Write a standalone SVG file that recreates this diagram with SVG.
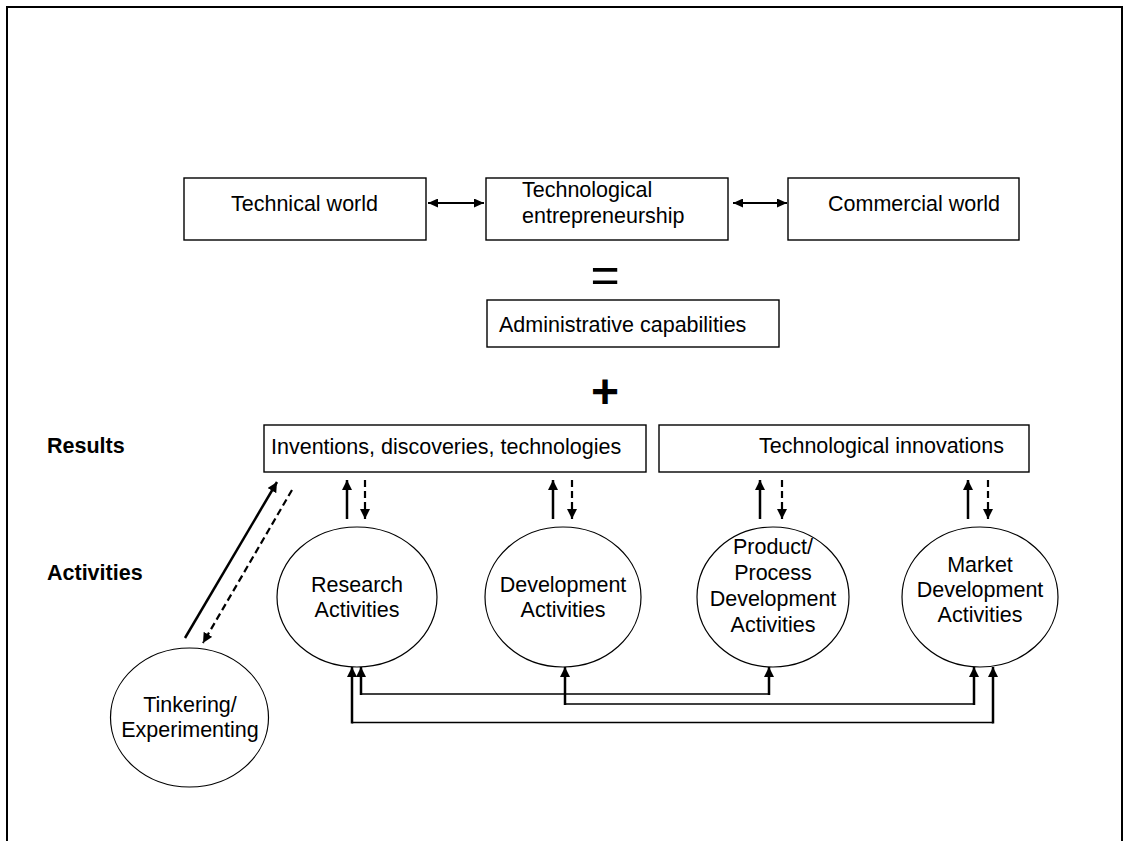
<svg xmlns="http://www.w3.org/2000/svg" width="1126" height="841" viewBox="0 0 1126 841">
  <style>
    .box { fill: #fff; stroke: #000; stroke-width: 1.4; }
    .oval { fill: #fff; stroke: #000; stroke-width: 1.2; }
    .t { font-family: "Liberation Sans", Arial, sans-serif; font-size: 21.5px; fill: #000; }
    .c { text-anchor: middle; }
    .lbl { font-weight: bold; }
    .sym { font-family: "Liberation Sans", Arial, sans-serif; fill: #000; text-anchor: middle; }
    .link { fill: none; stroke: #000; }
    .solid { stroke-width: 2.5; }
    .dash { stroke-width: 2.2; stroke-dasharray: 7 4; }
    .thin { stroke-width: 1.5; }
    .pair { stroke-width: 2; }
  </style>
  <defs>
    <marker id="head" markerUnits="userSpaceOnUse" markerWidth="11" markerHeight="10" refX="10" refY="5" orient="auto-start-reverse">
      <path d="M0,0 L10,5 L0,10 z" fill="#000"/>
    </marker>
    <marker id="headSmall" markerUnits="userSpaceOnUse" markerWidth="10" markerHeight="9" refX="10" refY="4.5" orient="auto-start-reverse">
      <path d="M0,0 L10,4.5 L0,9 z" fill="#000"/>
    </marker>
  </defs>

  <rect width="1126" height="841" fill="#fff"/>
  <!-- page frame, open at the bottom -->
  <path d="M7,841 V7 H1122 V841" fill="none" stroke="#000" stroke-width="2"/>

  <!-- top row -->
  <g id="technical-world">
    <rect class="box" x="184" y="178" width="242" height="62"/>
    <text class="t" x="231" y="211">Technical world</text>
  </g>
  <g id="tech-entrepreneurship">
    <rect class="box" x="486" y="178" width="242" height="62"/>
    <text class="t" x="522" y="197">Technological</text>
    <text class="t" x="522" y="223">entrepreneurship</text>
  </g>
  <g id="commercial-world">
    <rect class="box" x="788" y="178" width="231" height="62"/>
    <text class="t" x="828" y="211">Commercial world</text>
  </g>

  <g id="equals">
    <text class="sym" x="605" y="292" font-size="50">=</text>
  </g>

  <g id="admin-capabilities">
    <rect class="box" x="487" y="300" width="292" height="47"/>
    <text class="t" x="499" y="332">Administrative capabilities</text>
  </g>

  <g id="plus">
    <text class="sym" x="605" y="408" font-size="48" font-weight="bold">+</text>
  </g>

  <!-- row labels -->
  <g id="row-labels">
    <text class="t lbl" x="47" y="453">Results</text>
    <text class="t lbl" x="47" y="580">Activities</text>
  </g>

  <!-- results -->
  <g id="inventions">
    <rect class="box" x="264" y="425" width="382" height="47"/>
    <text class="t" x="271" y="454">Inventions, discoveries, technologies</text>
  </g>
  <g id="innovations">
    <rect class="box" x="659" y="425" width="370" height="47"/>
    <text class="t" x="759" y="453">Technological innovations</text>
  </g>

  <!-- activities -->
  <g id="research">
    <ellipse class="oval" cx="357" cy="597" rx="80" ry="70"/>
    <text class="t c" x="357" y="592">Research</text>
    <text class="t c" x="357" y="617">Activities</text>
  </g>
  <g id="development">
    <ellipse class="oval" cx="563" cy="597" rx="78" ry="70"/>
    <text class="t c" x="563" y="592">Development</text>
    <text class="t c" x="563" y="617">Activities</text>
  </g>
  <g id="product-process">
    <ellipse class="oval" cx="773" cy="597" rx="76" ry="70"/>
    <text class="t c" x="773" y="554">Product/</text>
    <text class="t c" x="773" y="580">Process</text>
    <text class="t c" x="773" y="606">Development</text>
    <text class="t c" x="773" y="632">Activities</text>
  </g>
  <g id="market">
    <ellipse class="oval" cx="980" cy="597" rx="78" ry="70"/>
    <text class="t c" x="980" y="572">Market</text>
    <text class="t c" x="980" y="597">Development</text>
    <text class="t c" x="980" y="622">Activities</text>
  </g>
  <g id="tinkering">
    <ellipse class="oval" cx="189.5" cy="717.5" rx="79" ry="69.5"/>
    <text class="t c" x="190" y="712">Tinkering/</text>
    <text class="t c" x="190" y="737">Experimenting</text>
  </g>

  <!-- connectors -->
  <g id="connectors">
    <line class="link pair" x1="428" y1="203" x2="484" y2="203" marker-start="url(#headSmall)" marker-end="url(#headSmall)"/>
    <line class="link pair" x1="733" y1="203" x2="787" y2="203" marker-start="url(#headSmall)" marker-end="url(#headSmall)"/>

    <line class="link solid" x1="185" y1="638" x2="277" y2="482" marker-end="url(#head)"/>
    <line class="link dash" x1="292" y1="490" x2="203" y2="643" marker-end="url(#head)"/>

    <line class="link solid" x1="347" y1="519" x2="347" y2="480" marker-end="url(#head)"/>
    <line class="link dash" x1="365" y1="480" x2="365" y2="519" marker-end="url(#head)"/>
    <line class="link solid" x1="553" y1="519" x2="553" y2="480" marker-end="url(#head)"/>
    <line class="link dash" x1="572" y1="480" x2="572" y2="519" marker-end="url(#head)"/>
    <line class="link solid" x1="760" y1="519" x2="760" y2="480" marker-end="url(#head)"/>
    <line class="link dash" x1="782" y1="480" x2="782" y2="519" marker-end="url(#head)"/>
    <line class="link solid" x1="968" y1="519" x2="968" y2="480" marker-end="url(#head)"/>
    <line class="link dash" x1="988" y1="480" x2="988" y2="519" marker-end="url(#head)"/>

    <!-- research <-> product/process -->
    <line class="link thin" x1="361" y1="694" x2="769" y2="694"/>
    <line class="link solid" x1="361" y1="695" x2="361" y2="667" marker-end="url(#head)"/>
    <line class="link solid" x1="769" y1="695" x2="769" y2="667" marker-end="url(#head)"/>
    <!-- development <-> market -->
    <line class="link thin" x1="565" y1="704" x2="974" y2="704"/>
    <line class="link solid" x1="565" y1="705" x2="565" y2="667" marker-end="url(#head)"/>
    <line class="link solid" x1="974" y1="705" x2="974" y2="667" marker-end="url(#head)"/>
    <!-- research <-> market -->
    <line class="link thin" x1="352" y1="722.5" x2="993" y2="722.5"/>
    <line class="link solid" x1="352" y1="723.5" x2="352" y2="667" marker-end="url(#head)"/>
    <line class="link solid" x1="993" y1="723.5" x2="993" y2="667" marker-end="url(#head)"/>
  </g>
</svg>
